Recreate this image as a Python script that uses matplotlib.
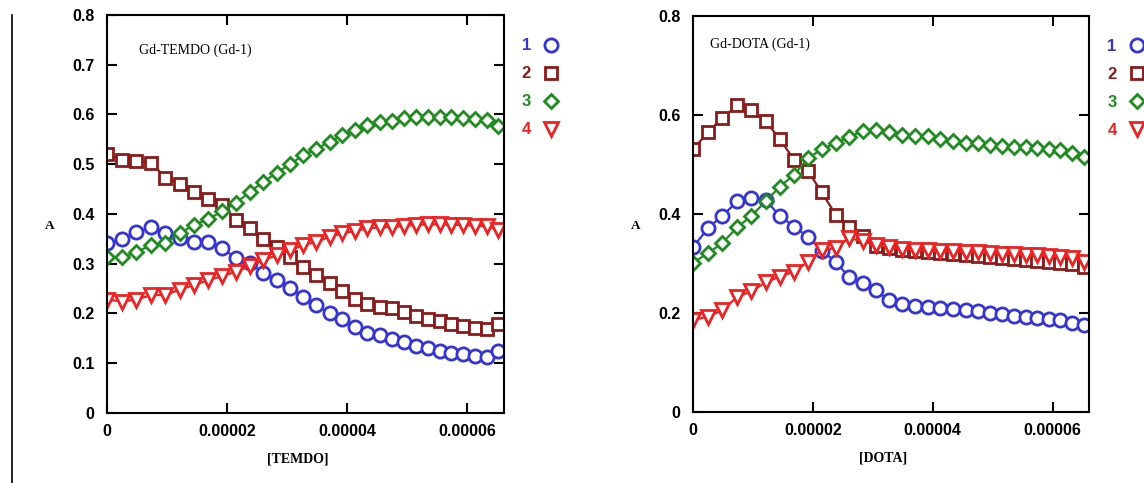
import numpy as np
import matplotlib.pyplot as plt
from matplotlib.lines import Line2D

# concentration of added ligand, in units of 1e-5 M
conc = [0, 0.25, 0.49, 0.74, 0.97, 1.21, 1.45, 1.69, 1.92, 2.15, 2.38, 2.60, 2.83, 3.05, 3.27, 3.49,
        3.71, 3.92, 4.13, 4.34, 4.55, 4.75, 4.95, 5.15, 5.35, 5.55, 5.74, 5.94, 6.13, 6.33, 6.52]

# Gd-TEMDO panel, absorbance of the 4 species
temdo_1 = [0.341, 0.349, 0.364, 0.373, 0.361, 0.351, 0.344, 0.343, 0.331, 0.311, 0.301, 0.282, 0.268, 0.252, 0.234, 0.217,
           0.200, 0.188, 0.173, 0.161, 0.157, 0.148, 0.143, 0.135, 0.131, 0.125, 0.121, 0.118, 0.115, 0.113, 0.125]
temdo_2 = [0.521, 0.508, 0.507, 0.503, 0.473, 0.461, 0.444, 0.431, 0.418, 0.388, 0.371, 0.349, 0.334, 0.313, 0.294, 0.277,
           0.261, 0.246, 0.229, 0.219, 0.214, 0.210, 0.203, 0.194, 0.189, 0.184, 0.179, 0.175, 0.171, 0.169, 0.179]
temdo_3 = [0.314, 0.313, 0.323, 0.338, 0.341, 0.361, 0.378, 0.390, 0.405, 0.422, 0.444, 0.464, 0.483, 0.500, 0.518, 0.531,
           0.545, 0.558, 0.568, 0.578, 0.585, 0.587, 0.592, 0.594, 0.595, 0.595, 0.594, 0.592, 0.590, 0.589, 0.576]
temdo_4 = [0.228, 0.224, 0.228, 0.237, 0.237, 0.248, 0.257, 0.267, 0.275, 0.284, 0.295, 0.307, 0.317, 0.327, 0.337, 0.344,
           0.354, 0.361, 0.366, 0.371, 0.373, 0.374, 0.376, 0.378, 0.379, 0.379, 0.378, 0.378, 0.376, 0.376, 0.367]

# Gd-DOTA panel
dota_1 = [0.332, 0.371, 0.396, 0.425, 0.431, 0.428, 0.395, 0.374, 0.353, 0.325, 0.303, 0.272, 0.260, 0.245, 0.225, 0.218,
          0.213, 0.211, 0.209, 0.207, 0.205, 0.203, 0.199, 0.197, 0.194, 0.192, 0.189, 0.187, 0.185, 0.180, 0.175]
dota_2 = [0.530, 0.565, 0.594, 0.619, 0.609, 0.587, 0.551, 0.508, 0.486, 0.443, 0.398, 0.374, 0.355, 0.335, 0.330, 0.327,
          0.324, 0.322, 0.320, 0.318, 0.316, 0.314, 0.312, 0.310, 0.308, 0.306, 0.304, 0.302, 0.300, 0.298, 0.293]
dota_3 = [0.301, 0.320, 0.341, 0.373, 0.395, 0.425, 0.455, 0.479, 0.513, 0.530, 0.543, 0.555, 0.567, 0.569, 0.565, 0.560,
          0.557, 0.557, 0.551, 0.547, 0.544, 0.543, 0.540, 0.537, 0.535, 0.534, 0.532, 0.530, 0.528, 0.523, 0.515]
dota_4 = [0.185, 0.192, 0.205, 0.232, 0.243, 0.261, 0.273, 0.283, 0.303, 0.327, 0.330, 0.351, 0.344, 0.337, 0.333, 0.329,
          0.327, 0.326, 0.324, 0.324, 0.322, 0.322, 0.320, 0.319, 0.318, 0.317, 0.316, 0.314, 0.313, 0.311, 0.303]

labels = ['1', '2', '3', '4']
colors = ['#3535d6', '#8b1a1a', '#1e8c1e', '#ee2222']
markers = ['o', 's', 'D', 'v']
msizes = [9.5, 8.3, 7.6, 9.5]

x_ticks = [0, 2e-5, 4e-5, 6e-5]
x_ticklabels = ['0', '0.00002', '0.00004', '0.00006']

tick_font = {'family': 'Liberation Sans', 'weight': 'bold', 'size': 11.5}
serif = 'Liberation Serif'


def draw_panel(ax, series, title, xlabel, yticks):
    x = np.array(conc) * 1e-5
    for ys, c, m, ms in zip(series, colors, markers, msizes):
        ax.plot(x, ys, color=c, lw=1.6, marker=m, ms=ms, mfc='white', mec=c, mew=2.0)

    ax.set_xlim(0, 6.61e-5)
    ax.set_ylim(0, 0.8)
    ax.set_xticks(x_ticks)
    ax.set_xticklabels(x_ticklabels, fontdict=tick_font)
    ax.set_yticks(yticks)
    ax.set_yticklabels(['0' if v == 0 else f'{v:.1f}' for v in yticks], fontdict=tick_font)
    ax.tick_params(direction='in', top=True, right=True, length=7, width=1.5)
    ax.tick_params(axis='x', pad=8)
    ax.tick_params(axis='y', pad=9)
    for s in ax.spines.values():
        s.set_linewidth(1.5)

    ax.set_xlabel(xlabel, family=serif, weight='bold', fontsize=10)
    ax.xaxis.set_label_coords(0.48, -0.1)
    ax.set_ylabel('A', family=serif, weight='bold', fontsize=9.5, rotation=0)
    ax.yaxis.set_label_coords(-0.145, 0.455)
    ax.text(0.08, 0.912, title, transform=ax.transAxes, family=serif, fontsize=10, va='center')

    # legend on the right, numbers first
    handles = [Line2D([], [], ls='none', marker=m, ms=ms, mfc='white', mec=c, mew=2.0)
               for c, m, ms in zip(colors, markers, msizes)]
    leg = ax.legend(handles, labels, loc='upper left', bbox_to_anchor=(1.025, 0.962), frameon=False,
                    markerfirst=False, handlelength=1.0, handletextpad=0.7, borderpad=0, labelspacing=0.78,
                    prop={'family': 'Liberation Sans', 'weight': 'bold', 'size': 12})
    for t, c in zip(leg.get_texts(), colors):
        t.set_color(c)


fig = plt.figure(figsize=(11.44, 4.83), dpi=100)
ax1 = fig.add_axes([0.0935, 0.145, 0.3467, 0.824])
ax2 = fig.add_axes([0.6058, 0.148, 0.3462, 0.819])

draw_panel(ax1, [temdo_1, temdo_2, temdo_3, temdo_4], 'Gd-TEMDO (Gd-1)', '[TEMDO]',
           [0, 0.1, 0.2, 0.3, 0.4, 0.5, 0.6, 0.7, 0.8])
draw_panel(ax2, [dota_1, dota_2, dota_3, dota_4], 'Gd-DOTA (Gd-1)', '[DOTA]',
           [0, 0.2, 0.4, 0.6, 0.8])
ax2.texts[0].set_x(0.042)
ax2.texts[0].set_y(0.929)

# thin border line at the left edge of the page
fig.add_artist(Line2D([0.0105, 0.0105], [0.0, 0.969], color='black', lw=1.2))

fig.savefig('out.png', dpi=100)
